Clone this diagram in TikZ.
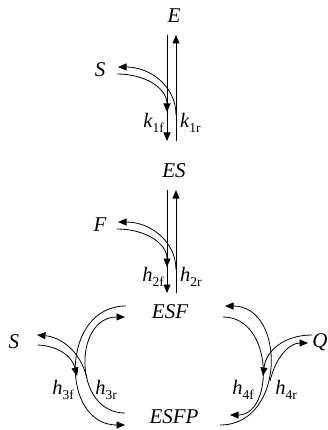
\documentclass[tikz,border=0pt]{standalone}
\usepackage{fontspec}
\setmainfont{Liberation Serif}
\usetikzlibrary{arrows.meta}
\newcommand\ratelab[3]{{\itshape #1}\raisebox{-0.28em}{\fontsize{13.5}{13.5}\selectfont #2#3}}
\tikzset{
  species/.style={font=\fontsize{21}{21}\selectfont\itshape, inner sep=0pt},
  ratelbl/.style={font=\fontsize{20.5}{20.5}\selectfont, inner sep=0pt},
  conn/.style={line width=0.8pt},
  tipend/.style={-{Triangle[length=8.5pt,width=7pt]}},
}
\begin{document}
\begin{tikzpicture}[x=1pt,y=-1pt]
\useasboundingbox (0,0) rectangle (328,430);
% species
\node[species] (E) at (174,16) {E};
\node[species] (S1) at (100,70) {S};
\node[species] (ES) at (174,171) {ES};
\node[species] (F) at (100,225) {F};
\node[species] (ESF) at (170,312) {ESF};
\node[species] (ESFP) at (174,417) {ESFP};
\node[species] (S2) at (14,342) {S};
\node[species] (Q) at (320,342) {Q};
% pair 1
\coordinate (a1) at (167,35); \coordinate (a2) at (167,141);
\coordinate (b1) at (176,141); \coordinate (b2) at (176,35);
\draw[conn,tipend] (a1) -- (a2);
\draw[conn,tipend] (b1) -- (b2);
\coordinate (s1u) at (118,67); \coordinate (s1l) at (117,74);
\coordinate (j1u) at (176,115); \coordinate (j1l) at (167,112);
\draw[conn,tipend] (j1u) .. controls (176,86) and (150,67) .. (s1u);
\draw[conn,tipend] (s1l) .. controls (145,74) and (167,88) .. (j1l);
\node[ratelbl,anchor=east] (k1f) at (164,123) {\ratelab{k}{1}{f}};
\node[ratelbl,anchor=west] (k1r) at (180,123) {\ratelab{k}{1}{r}};
% pair 2
\coordinate (c1) at (167,190); \coordinate (c2) at (167,293);
\coordinate (d1) at (176,293); \coordinate (d2) at (176,190);
\draw[conn,tipend] (c1) -- (c2);
\draw[conn,tipend] (d1) -- (d2);
\coordinate (fu) at (118,222); \coordinate (fl) at (117,229);
\coordinate (j2u) at (176,270); \coordinate (j2l) at (167,267);
\draw[conn,tipend] (j2u) .. controls (176,241) and (150,222) .. (fu);
\draw[conn,tipend] (fl) .. controls (145,229) and (167,243) .. (j2l);
\node[ratelbl,anchor=east] (h2f) at (164,277) {\ratelab{h}{2}{f}};
\node[ratelbl,anchor=west] (h2r) at (180,277) {\ratelab{h}{2}{r}};
% left arcs
\coordinate (lo1) at (126,306); \coordinate (lo2) at (125,425);
\coordinate (li1) at (125,413); \coordinate (li2) at (125,317);
\draw[conn,tipend] (lo1) .. controls (60,306) and (60,425) .. (lo2);
\draw[conn,tipend] (li1) .. controls (73,413) and (73,317) .. (li2);
\coordinate (s2u) at (37,335); \coordinate (s2l) at (38,345);
\coordinate (m3u) at (87,378); \coordinate (m3l) at (77,376);
\draw[conn,tipend] (m3u) .. controls (80,350) and (60,337) .. (s2u);
\draw[conn,tipend] (s2l) .. controls (58,346) and (72,356) .. (m3l);
\node[ratelbl] (h3f) at (63,390) {\ratelab{h}{3}{f}};
\node[ratelbl] (h3r) at (106,390) {\ratelab{h}{3}{r}};
% right arcs
\coordinate (ro1) at (220,425); \coordinate (ro2) at (225,306);
\coordinate (ri1) at (223,317); \coordinate (ri2) at (230,415);
\draw[conn,tipend] (ro1) .. controls (286,425) and (286,306) .. (ro2);
\draw[conn,tipend] (ri1) .. controls (274,317) and (274,415) .. (ri2);
\coordinate (qu) at (312,335); \coordinate (ql) at (308,343);
\coordinate (m4u) at (263,376); \coordinate (m4l) at (270,381);
\draw[conn,tipend] (qu) .. controls (285,335) and (266,350) .. (m4u);
\draw[conn,tipend] (m4l) .. controls (276,356) and (290,343) .. (ql);
\node[ratelbl] (h4f) at (243,390) {\ratelab{h}{4}{f}};
\node[ratelbl] (h4r) at (286,390) {\ratelab{h}{4}{r}};
\end{tikzpicture}
\end{document}
